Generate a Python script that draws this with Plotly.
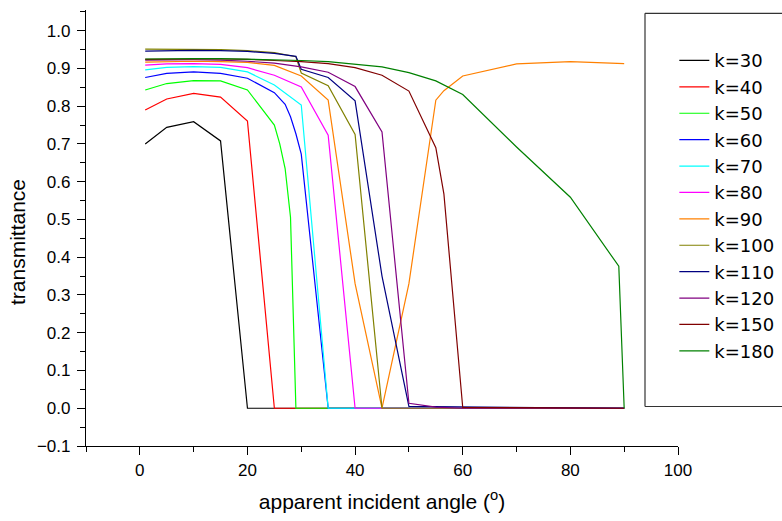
import plotly.graph_objects as go

# ---- data ----
k_labels = ["k=30", "k=40", "k=50", "k=60", "k=70", "k=80", "k=90",
            "k=100", "k=110", "k=120", "k=150", "k=180"]
colors = ["#000000", "#ff0000", "#00ff00", "#0000ff", "#00ffff", "#ff00ff",
          "#ff8000", "#808000", "#000080", "#800080", "#800000", "#008000"]

angle_k30 = [1, 5, 10, 15, 20, 90]
trans_k30 = [0.700, 0.744, 0.759, 0.708, 0.0, 0.0]

angle_k40 = [1, 5, 10, 15, 20, 25, 90]
trans_k40 = [0.790, 0.819, 0.834, 0.824, 0.761, 0.0, 0.0]

angle_k50 = [1, 5, 10, 15, 20, 25, 26, 27, 28, 29, 90]
trans_k50 = [0.843, 0.860, 0.868, 0.867, 0.843, 0.750, 0.700, 0.635, 0.506, 0.0, 0.0]

angle_k60 = [1, 5, 10, 15, 20, 25, 27, 28, 29, 30, 35, 90]
trans_k60 = [0.876, 0.887, 0.891, 0.887, 0.874, 0.836, 0.805, 0.772, 0.727, 0.673, 0.0, 0.0]

angle_k70 = [1, 5, 10, 15, 20, 25, 30, 35, 90]
trans_k70 = [0.896, 0.903, 0.905, 0.903, 0.891, 0.856, 0.803, 0.0, 0.0]

angle_k80 = [1, 5, 10, 15, 20, 25, 30, 35, 40, 90]
trans_k80 = [0.909, 0.912, 0.913, 0.911, 0.902, 0.882, 0.851, 0.723, 0.0, 0.0]

angle_k90 = [1, 5, 10, 15, 20, 25, 30, 35, 40, 45, 50, 55, 56.5, 60, 70, 80, 90]
trans_k90 = [0.917, 0.918, 0.919, 0.918, 0.916, 0.908, 0.880, 0.816, 0.330, 0.0,
             0.330, 0.816, 0.841, 0.880, 0.912, 0.918, 0.913]

angle_k100 = [1, 5, 10, 15, 20, 25, 29, 30, 35, 40, 45, 90]
trans_k100 = [0.951, 0.951, 0.951, 0.950, 0.947, 0.942, 0.931, 0.888, 0.854, 0.725, 0.0, 0.0]

angle_k110 = [1, 5, 10, 15, 20, 25, 29, 30, 35, 40, 45, 50, 90]
trans_k110 = [0.946, 0.947, 0.948, 0.947, 0.945, 0.940, 0.932, 0.898, 0.876, 0.814, 0.350, 0.005, 0.0]

angle_k120 = [1, 5, 10, 15, 20, 25, 30, 35, 40, 45, 50, 55, 60, 90]
trans_k120 = [0.922, 0.923, 0.923, 0.922, 0.919, 0.914, 0.904, 0.890, 0.852, 0.732,
              0.013, 0.003, 0.0, 0.0]

angle_k150 = [1, 5, 10, 15, 20, 25, 30, 35, 40, 45, 50, 55, 56.5, 60, 90]
trans_k150 = [0.924, 0.925, 0.925, 0.925, 0.924, 0.921, 0.918, 0.913, 0.902, 0.882,
              0.840, 0.690, 0.568, 0.002, 0.0]

angle_k180 = [1, 5, 10, 15, 20, 25, 30, 35, 40, 45, 50, 55, 60, 70, 80, 89, 90]
trans_k180 = [0.925, 0.926, 0.926, 0.926, 0.925, 0.923, 0.921, 0.918, 0.911, 0.904,
              0.889, 0.867, 0.831, 0.692, 0.559, 0.376, 0.0]

x_ticks = [0, 20, 40, 60, 80, 100]

angles = [angle_k30, angle_k40, angle_k50, angle_k60, angle_k70, angle_k80,
          angle_k90, angle_k100, angle_k110, angle_k120, angle_k150, angle_k180]
trans = [trans_k30, trans_k40, trans_k50, trans_k60, trans_k70, trans_k80,
         trans_k90, trans_k100, trans_k110, trans_k120, trans_k150, trans_k180]

FONT = "Liberation Sans, Arial, sans-serif"
LEGEND_FONT = "DejaVu Sans, sans-serif"

fig = go.Figure()
for lab, col, xs, ys in zip(k_labels, colors, angles, trans):
    fig.add_trace(go.Scatter(x=xs, y=ys, mode="lines", name=lab,
                             line=dict(color=col, width=1.2)))

axis_common = dict(showline=True, linecolor="black", linewidth=1.3,
                   ticks="outside", ticklen=8, tickwidth=1.3, tickcolor="black",
                   showgrid=False, zeroline=False, mirror=False,
                   tickfont=dict(family=FONT, size=17, color="black"))

fig.update_xaxes(range=[-10, 100], tickmode="array", tickvals=x_ticks,
                 minor=dict(ticks="outside", ticklen=4.5, tickwidth=1.3,
                            tickcolor="black", dtick=10, tick0=0, showgrid=False),
                 title=dict(text="apparent incident angle (<sup>o</sup>)",
                            font=dict(family=FONT, size=21, color="black"),
                            standoff=15),
                 **axis_common)
fig.update_yaxes(range=[-0.1, 1.0548], dtick=0.1, tick0=0, tickformat=".1f",
                 ticklabelstandoff=3,
                 minor=dict(ticks="outside", ticklen=4.5, tickwidth=1.3,
                            tickcolor="black", dtick=0.05, tick0=0, showgrid=False),
                 **axis_common)

# y-axis title, placed where the reference has it (slightly below centre)
fig.add_annotation(text="transmittance", xref="paper", yref="paper",
                   x=(18 - 86) / 592, y=(446 - 242) / 436,
                   xanchor="center", yanchor="middle", textangle=-90,
                   showarrow=False,
                   font=dict(family=FONT, size=21, color="black"))

# legend frame: left, top and bottom sides (the right side is off the canvas)
bx0 = (645 - 86) / 592
bx1 = (790 - 86) / 592
by0 = (446 - 406.5) / 436
by1 = (446 - 13.3) / 436
frame = dict(color="#333333", width=1.2)
for (xa, ya, xb, yb) in [(bx0, by0, bx0, by1), (bx0, by1, bx1, by1), (bx0, by0, bx1, by0)]:
    fig.add_shape(type="line", xref="paper", yref="paper",
                  x0=xa, y0=ya, x1=xb, y1=yb, line=frame, layer="above")

fig.update_layout(
    width=782, height=521,
    margin=dict(l=86, r=104, t=10, b=75, autoexpand=False),
    paper_bgcolor="white", plot_bgcolor="white",
    font=dict(family=FONT, color="black"),
    legend=dict(x=0.9938, y=0.926, xanchor="left", yanchor="top",
                bgcolor="rgba(0,0,0,0)", borderwidth=0,
                font=dict(family=LEGEND_FONT, size=18, color="black"),
                tracegroupgap=0),
    showlegend=True,
)

fig.write_html(
    "out.html",
    config={"displayModeBar": False},
    post_script="document.body.style.margin='0';"
                "document.body.style.overflow='hidden';"
                "document.documentElement.style.overflow='hidden';",
)
